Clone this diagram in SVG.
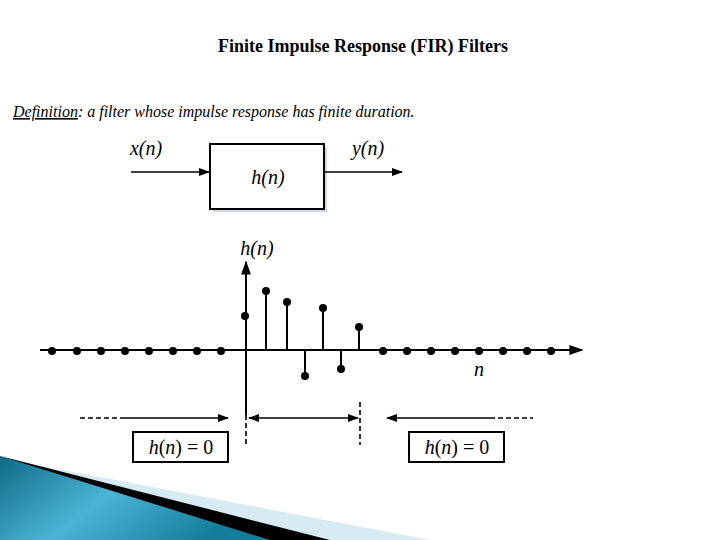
<svg xmlns="http://www.w3.org/2000/svg" width="720" height="540" viewBox="0 0 720 540">
<defs>
<linearGradient id="tg" x1="0" y1="0" x2="1" y2="0.4"><stop offset="0" stop-color="#0e6a86"/><stop offset="0.5" stop-color="#4bb4d4"/><stop offset="1" stop-color="#137d9c"/></linearGradient>
<marker id="ah" viewBox="0 0 10 10" refX="9" refY="5" markerWidth="7" markerHeight="7" orient="auto-start-reverse"><path d="M0,1.5 L10,5 L0,8.5 z" fill="#000"/></marker>
</defs>
<style>
.ln{stroke:#000;stroke-width:2;fill:none}
.th{stroke:#000;stroke-width:1.6;fill:none}
.ds{stroke:#000;stroke-width:1.6;stroke-dasharray:5,3;fill:none}
.m{font-family:"Liberation Serif",serif;font-style:italic;font-size:20px}
.mn{font-family:"Liberation Serif",serif;font-size:20px}
</style>
<rect width="720" height="540" fill="#fff"/>
<g id="decor">
<polygon points="0,458 430,540 260,540" fill="#d6ebf2"/>
<polygon points="0,456 330,540 240,540" fill="#000"/>
<polygon points="0,456 270,540 0,540" fill="url(#tg)"/>
</g>
<text x="363" y="52" text-anchor="middle" font-family="Liberation Serif,serif" font-size="18" font-weight="bold">Finite Impulse Response (FIR) Filters</text>
<text x="13" y="117" font-family="Liberation Serif,serif" font-size="16" font-style="italic"><tspan text-decoration="underline">Definition</tspan>: a filter whose impulse response has finite duration.</text>
<g id="block">
<rect x="213" y="147" width="114" height="65" fill="#cfd8e6"/>
<rect x="210" y="144" width="114" height="65" fill="#fff" stroke="#000" stroke-width="2"/>
<text x="268" y="184" class="m" text-anchor="middle">h(n)</text>
</g>
<text x="146" y="155" class="m" text-anchor="middle">x(n)</text>
<text x="368" y="155" class="m" text-anchor="middle">y(n)</text>
<g id="connectors">
<line x1="131" y1="172" x2="209" y2="172" class="th" marker-end="url(#ah)"/>
<line x1="324" y1="172" x2="402" y2="172" class="th" marker-end="url(#ah)"/>
<line x1="40" y1="350" x2="582" y2="350" class="ln" marker-end="url(#ah)"/>
<line x1="246" y1="415" x2="246" y2="262" class="ln" marker-end="url(#ah)"/>
<line x1="246" y1="415" x2="246" y2="445" class="ds"/>
<line x1="360" y1="402" x2="360" y2="445" class="ds"/>
<line x1="80" y1="418" x2="125" y2="418" class="ds"/>
<line x1="125" y1="418" x2="228" y2="418" class="th" marker-end="url(#ah)"/>
<line x1="249" y1="418" x2="358" y2="418" class="th" marker-start="url(#ah)" marker-end="url(#ah)"/>
<line x1="387" y1="418" x2="490" y2="418" class="th" marker-start="url(#ah)"/>
<line x1="490" y1="418" x2="533" y2="418" class="ds"/>
</g>
<g id="stems" stroke="#000" stroke-width="2" fill="#000">
<line x1="266" y1="350" x2="266" y2="291"/><line x1="287" y1="350" x2="287" y2="302"/>
<line x1="305" y1="350" x2="305" y2="375"/><line x1="323" y1="350" x2="323" y2="308"/>
<line x1="341" y1="350" x2="341" y2="368"/><line x1="359" y1="350" x2="359" y2="327"/>
</g>
<g id="dots" fill="#000">
<circle cx="52" cy="351" r="4"/><circle cx="77" cy="351" r="4"/><circle cx="101" cy="351" r="4"/><circle cx="125" cy="351" r="4"/><circle cx="149" cy="351" r="4"/><circle cx="173" cy="351" r="4"/><circle cx="197" cy="351" r="4"/><circle cx="221" cy="351" r="4"/>
<circle cx="245" cy="316" r="4"/><circle cx="266" cy="291" r="4"/><circle cx="287" cy="302" r="4"/><circle cx="305" cy="376" r="4"/><circle cx="323" cy="308" r="4"/><circle cx="341" cy="369" r="4"/><circle cx="359" cy="327" r="4"/>
<circle cx="383" cy="351" r="4"/><circle cx="407" cy="351" r="4"/><circle cx="431" cy="351" r="4"/><circle cx="455" cy="351" r="4"/><circle cx="479" cy="351" r="4"/><circle cx="503" cy="351" r="4"/><circle cx="527" cy="351" r="4"/><circle cx="551" cy="351" r="4"/>
</g>
<text x="257" y="255" class="m" text-anchor="middle">h(n)</text>
<text x="479" y="376" class="m" text-anchor="middle">n</text>
<g id="box1"><rect x="133" y="432" width="95" height="30" fill="#fff" stroke="#000" stroke-width="2"/><text x="181" y="454" class="mn" text-anchor="middle"><tspan font-style="italic">h</tspan>(<tspan font-style="italic">n</tspan>) = 0</text></g>
<g id="box2"><rect x="409" y="432" width="95" height="30" fill="#fff" stroke="#000" stroke-width="2"/><text x="457" y="454" class="mn" text-anchor="middle"><tspan font-style="italic">h</tspan>(<tspan font-style="italic">n</tspan>) = 0</text></g>
</svg>
